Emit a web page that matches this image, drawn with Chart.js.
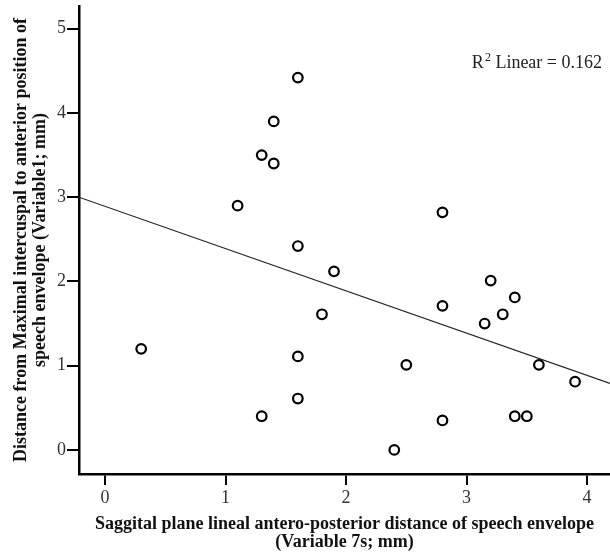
<!DOCTYPE html>
<html>
<head>
<meta charset="utf-8">
<script src="https://cdn.jsdelivr.net/npm/chart.js@4"></script>
<style>
  html, body { margin: 0; padding: 0; background: #fff; }
  #wrap { width: 610px; height: 554px; }
</style>
</head>
<body>
<div id="wrap"><canvas id="scatter" width="610" height="554"></canvas></div>
<script>
// data
const xValues = [0.3, 1.1, 1.3, 1.4, 1.4, 1.6, 1.6, 1.6, 1.6, 1.3, 1.8, 1.9, 2.4, 2.5, 2.8, 2.8, 2.8, 3.15, 3.2, 3.3, 3.4, 3.4, 3.5, 3.6, 3.9];
const yValues = [1.2, 2.9, 3.5, 3.4, 3.9, 4.42, 2.42, 1.11, 0.61, 0.4, 1.61, 2.12, 0.0, 1.01, 2.82, 1.71, 0.35, 1.5, 2.01, 1.61, 1.81, 0.4, 0.4, 1.01, 0.81];
// fit line end points (read at the plot edges)
const fitX = [-0.216, 4.19];
const fitY = [3.0, 0.79];
const xTicks = [0, 1, 2, 3, 4];
const yTicks = [0, 1, 2, 3, 4, 5];
const xTitle = ['Saggital plane lineal antero-posterior distance of speech envelope', '(Variable 7s; mm)'];
const yTitle = ['Distance from Maximal intercuspal to anterior position of', 'speech envelope (Variable1; mm)'];
const rSquared = '0.162';

const serif = "'Liberation Serif', 'Times New Roman', serif";

// R² label in the top right corner
const r2Label = {
  id: 'r2Label',
  afterDraw(chart) {
    const ctx = chart.ctx;
    ctx.save();
    ctx.fillStyle = '#222';
    ctx.textBaseline = 'alphabetic';
    ctx.textAlign = 'left';
    const big = '18px ' + serif, small = '12px ' + serif;
    const rest = ' Linear = ' + rSquared;
    ctx.font = big;
    const wR = ctx.measureText('R').width;
    const wRest = ctx.measureText(rest).width;
    ctx.font = small;
    const w2 = ctx.measureText('2').width;
    let x = 602 - (wR + w2 + 1 + wRest);
    const y = 68;
    ctx.font = big;
    ctx.fillText('R', x, y);
    x += wR + 1;
    ctx.font = small;
    ctx.fillText('2', x, y - 7);
    x += w2;
    ctx.font = big;
    ctx.fillText(rest, x, y);
    ctx.restore();
  }
};

const pts = xValues.map((x, i) => ({ x: x, y: yValues[i] }));
const fitPts = fitX.map((x, i) => ({ x: x, y: fitY[i] }));

new Chart(document.getElementById('scatter'), {
  type: 'scatter',
  data: {
    datasets: [
      {
        type: 'line',
        data: fitPts,
        borderColor: '#222',
        borderWidth: 1.2,
        pointRadius: 0,
        fill: false,
        order: 2
      },
      {
        data: pts,
        pointRadius: 4.8,
        pointBorderWidth: 2.2,
        pointBorderColor: '#000',
        pointBackgroundColor: '#fff',
        order: 1
      }
    ]
  },
  options: {
    responsive: false,
    animation: false,
    layout: { autoPadding: false, padding: { top: 6, right: 0, left: 0, bottom: 0 } },
    plugins: { legend: { display: false }, tooltip: { enabled: false } },
    scales: {
      x: {
        type: 'linear',
        min: -0.216,
        max: 4.19,
        afterFit(s) { s.height = 80; s.paddingRight = 0; s.paddingLeft = 0; },
        afterBuildTicks(s) { s.ticks = xTicks.map(v => ({ value: v })); },
        border: { display: true, color: '#000', width: 2.5 },
        grid: { drawOnChartArea: false, drawTicks: true, tickLength: 11, color: '#000', lineWidth: 2 },
        ticks: { padding: 2, color: '#333', font: { family: serif, size: 18 } },
        title: {
          display: true,
          text: xTitle,
          color: '#111',
          font: { family: serif, size: 18, weight: 'bold', lineHeight: 1.0 },
          padding: { top: 0, bottom: 3 }
        }
      },
      y: {
        type: 'linear',
        min: -0.286,
        max: 5.27,
        afterFit(s) { s.width = 79; s.paddingTop = 0; s.paddingBottom = 0; },
        afterBuildTicks(s) { s.ticks = yTicks.map(v => ({ value: v })); },
        border: { display: true, color: '#000', width: 2.5 },
        grid: { drawOnChartArea: false, drawTicks: true, tickLength: 12, color: '#000', lineWidth: 2 },
        ticks: { padding: 1, color: '#333', font: { family: serif, size: 18 } },
        title: {
          display: true,
          text: yTitle,
          color: '#111',
          font: { family: serif, size: 18, weight: 'bold', lineHeight: 1.05 },
          padding: { top: 12, bottom: 0 }
        }
      }
    }
  },
  plugins: [r2Label]
});
</script>
</body>
</html>
